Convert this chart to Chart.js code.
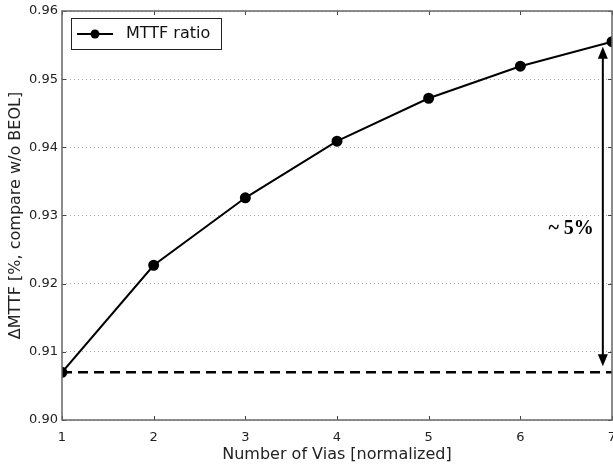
<!DOCTYPE html>
<html>
<head>
<meta charset="utf-8">
<script src="https://cdn.jsdelivr.net/npm/chart.js@4/dist/chart.umd.min.js"></script>
<style>
  html, body { margin: 0; padding: 0; background: #fff; }
  #wrap { width: 613px; height: 464px; }
</style>
</head>
<body>
<div id="wrap"><canvas id="mttf-chart"></canvas></div>
<script>
const vias = [1, 2, 3, 4, 5, 6, 7];
const mttfRatio = [0.9070, 0.9227, 0.9326, 0.9409, 0.9472, 0.9519, 0.9555];
const baseline = 0.907;
const yTicks = [0.90, 0.91, 0.92, 0.93, 0.94, 0.95, 0.96];
const arrowX = 6.9;
const arrowLabel = "~ 5%";
const arrowLabelY = 0.928;

const FONT = "'DejaVu Sans', sans-serif";

// frame, inward ticks, legend box, the ~5% arrow
const extras = {
  id: "extras",
  afterDatasetsDraw(chart) {
    const ctx = chart.ctx;
    const a = chart.chartArea;
    const x = chart.scales.x, y = chart.scales.y;
    ctx.save();

    // ticks
    ctx.strokeStyle = "#444";
    ctx.lineWidth = 1;
    yTicks.forEach(function (v) {
      const py = Math.round(y.getPixelForValue(v)) + 0.5;
      ctx.beginPath();
      ctx.moveTo(a.left, py); ctx.lineTo(a.left + 4, py);
      ctx.moveTo(a.right, py); ctx.lineTo(a.right - 4, py);
      ctx.stroke();
    });
    vias.forEach(function (v) {
      const px = Math.round(x.getPixelForValue(v)) + 0.5;
      ctx.beginPath();
      ctx.moveTo(px, a.bottom); ctx.lineTo(px, a.bottom - 4);
      ctx.moveTo(px, a.top); ctx.lineTo(px, a.top + 4);
      ctx.stroke();
    });

    // frame
    ctx.strokeStyle = "#666";
    ctx.lineWidth = 1.5;
    ctx.strokeRect(a.left, a.top, a.right - a.left, a.bottom - a.top);

    // arrow
    const ax = x.getPixelForValue(arrowX);
    const top = y.getPixelForValue(mttfRatio[mttfRatio.length - 1]) + 5;
    const bot = y.getPixelForValue(baseline) - 6;
    ctx.strokeStyle = "#000";
    ctx.fillStyle = "#000";
    ctx.lineWidth = 2;
    ctx.beginPath();
    ctx.moveTo(ax, top + 10); ctx.lineTo(ax, bot - 10);
    ctx.stroke();
    ctx.beginPath();
    ctx.moveTo(ax, top); ctx.lineTo(ax - 5, top + 12); ctx.lineTo(ax + 5, top + 12); ctx.closePath();
    ctx.fill();
    ctx.beginPath();
    ctx.moveTo(ax, bot); ctx.lineTo(ax - 5, bot - 12); ctx.lineTo(ax + 5, bot - 12); ctx.closePath();
    ctx.fill();

    ctx.font = "bold 20px 'Liberation Serif', serif";
    ctx.textAlign = "right";
    ctx.textBaseline = "middle";
    ctx.fillText(arrowLabel, ax - 9, y.getPixelForValue(arrowLabelY));

    // legend
    const lx = a.left + 9, ly = a.top + 7;
    ctx.fillStyle = "#fff";
    ctx.fillRect(lx, ly, 150, 31);
    ctx.strokeStyle = "#222";
    ctx.lineWidth = 1;
    ctx.strokeRect(lx + 0.5, ly + 0.5, 150, 31);
    ctx.strokeStyle = "#000";
    ctx.lineWidth = 2;
    ctx.beginPath();
    ctx.moveTo(lx + 6, ly + 16); ctx.lineTo(lx + 42, ly + 16);
    ctx.stroke();
    ctx.fillStyle = "#000";
    ctx.beginPath();
    ctx.arc(lx + 24, ly + 16, 4.5, 0, Math.PI * 2);
    ctx.fill();
    ctx.font = "16px " + FONT;
    ctx.textAlign = "left";
    ctx.fillStyle = "#111";
    ctx.fillText(chart.data.datasets[0].label, lx + 55, ly + 16);

    ctx.restore();
  }
};

const ctx = document.getElementById("mttf-chart").getContext("2d");

new Chart(ctx, {
  type: "line",
  data: {
    datasets: [
      {
        label: "MTTF ratio",
        data: vias.map(function (v, i) { return { x: v, y: mttfRatio[i] }; }),
        borderColor: "#000",
        backgroundColor: "#000",
        borderWidth: 2,
        pointRadius: 4.5,
        pointHoverRadius: 4.5,
        fill: false,
        tension: 0,
        clip: 0,
      },
      {
        label: "baseline",
        data: [{ x: vias[0], y: baseline }, { x: vias[vias.length - 1], y: baseline }],
        borderColor: "#000",
        borderWidth: 2.5,
        borderDash: [10, 6],
        pointRadius: 0,
        fill: false,
        clip: 0,
      },
    ],
  },
  options: {
    responsive: true,
    maintainAspectRatio: false,
    animation: false,
    devicePixelRatio: 1,
    layout: { autoPadding: false, padding: { top: 11, right: 1, left: 0, bottom: 0 } },
    plugins: { legend: { display: false }, tooltip: { enabled: false } },
    scales: {
      x: {
        type: "linear",
        min: 1,
        max: 7,
        border: { display: false },
        grid: { display: false },
        ticks: { stepSize: 1, color: "#222", font: { family: FONT, size: 13 }, padding: 2, maxRotation: 0 },
        title: { display: true, text: "Number of Vias [normalized]", color: "#222", font: { family: FONT, size: 16 }, padding: { top: 1, bottom: 0 } },
        afterFit: function (s) { s.height = 44; s.paddingLeft = 0; s.paddingRight = 0; },
      },
      y: {
        min: 0.90,
        max: 0.96,
        border: { display: false, dash: [1, 3] },
        grid: { color: "#aaa", lineWidth: 1, drawTicks: false },
        ticks: {
          stepSize: 0.01,
          color: "#222",
          font: { family: FONT, size: 13 },
          padding: 4,
          callback: function (v) { return v.toFixed(2); },
        },
        title: { display: true, text: "ΔMTTF [%, compare w/o BEOL]", color: "#222", font: { family: FONT, size: 16 }, padding: { top: 6, bottom: 2 } },
        afterFit: function (s) { s.width = 62; s.paddingTop = 0; s.paddingBottom = 0; },
      },
    },
  },
  plugins: [extras],
});
</script>
</body>
</html>
